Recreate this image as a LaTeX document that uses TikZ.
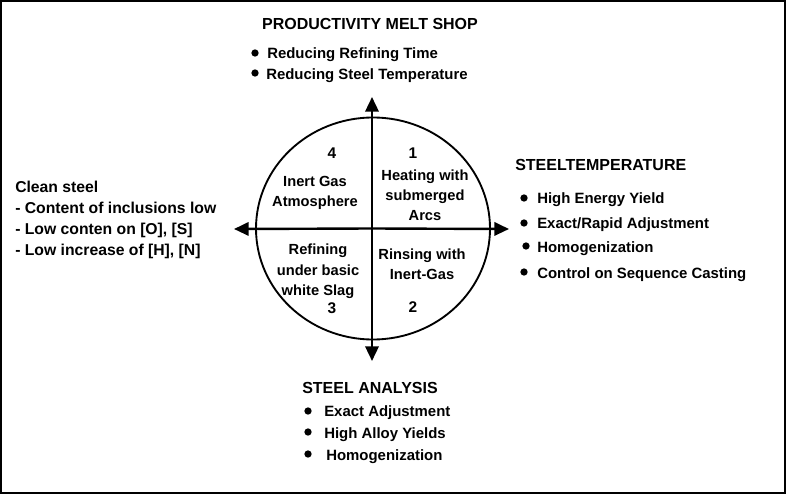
\documentclass[tikz,border=0pt]{standalone}
\usepackage{fontspec}
\setmainfont{Liberation Sans}
\usetikzlibrary{arrows.meta}
\begin{document}
\begin{tikzpicture}[x=0.75pt,y=-0.75pt,
  ttl/.style={font=\bfseries\fontsize{12}{14}\selectfont, inner sep=0pt, text height=8.6pt, text depth=0pt},
  itm/.style={font=\bfseries\fontsize{11.2}{13}\selectfont, inner sep=0pt, text height=8pt, text depth=0pt, anchor=west},
  lft/.style={font=\bfseries\fontsize{11.8}{14}\selectfont, inner sep=0pt, text height=8.5pt, text depth=0pt, anchor=west},
  ctx/.style={font=\bfseries\fontsize{11}{13}\selectfont, inner sep=0pt, text height=7.9pt, text depth=0pt},
  num/.style={font=\bfseries\fontsize{11.6}{13}\selectfont, inner sep=0pt, text height=8.3pt, text depth=0pt},
  bul/.style={circle, fill=black, inner sep=0pt, minimum size=5.5pt},
  axis/.style={line width=1.8pt, -{Triangle[length=11pt,width=10pt]}},
  ring/.style={line width=1.4pt}]
\useasboundingbox (0,0) rectangle (787,495);
% frame
\draw[line width=1.5pt] (0.8,0.8) -- (785,0.8) -- (785,493) -- (0.8,493) -- cycle;
\draw[line width=1pt] (0.8,493.8) -- (785.5,493.8);
% circle and axes
\coordinate (C) at (372,228.5);
\draw[ring] (373,228.5) ellipse [x radius=117, y radius=111];
\coordinate (N) at (372,97);
\coordinate (S) at (372,361);
\coordinate (W) at (234,229);
\coordinate (E) at (509,229);
\draw[axis] (C) -- (N);
\draw[axis] (C) -- (S);
\draw[axis] (C) -- (W);
\draw[axis] (C) -- (E);
% quadrant labels
\node[num] (n4) at (332,153) {4};
\node[num] (n1) at (413,153) {1};
\node[num] (n3) at (332,308) {3};
\node[num] (n2) at (413,307) {2};
\node[ctx] (q4a) at (315,181) {Inert Gas};
\node[ctx] (q4b) at (315,201) {Atmosphere};
\node[ctx] (q1a) at (425,175) {Heating with};
\node[ctx] (q1b) at (425,195) {submerged};
\node[ctx] (q1c) at (425,215) {Arcs};
\node[ctx] (q3a) at (318,249) {Refining};
\node[ctx] (q3b) at (318,270) {under basic};
\node[ctx] (q3c) at (318,290) {white Slag};
\node[ctx] (q2a) at (422,254) {Rinsing with};
\node[ctx] (q2b) at (422,274) {Inert-Gas};
% top
\node[ttl] (top) at (370,24) {PRODUCTIVITY MELT SHOP};
\node[bul] (tb1) at (255,53) {};
\node[itm] (t1) at (267,53) {Reducing Refining Time};
\node[bul] (tb2) at (255,73) {};
\node[itm] (t2) at (266,74) {Reducing Steel Temperature};
% right
\node[ttl, anchor=west] (rt) at (515,165) {STEELTEMPERATURE};
\node[bul] (rb1) at (524,198) {};
\node[itm] (r1) at (537,198) {High Energy Yield};
\node[bul] (rb2) at (524,223) {};
\node[itm] (r2) at (537,223) {Exact/Rapid Adjustment};
\node[bul] (rb3) at (526,246) {};
\node[itm] (r3) at (537,247) {Homogenization};
\node[bul] (rb4) at (524,272) {};
\node[itm] (r4) at (537,273) {Control on Sequence Casting};
% left
\node[lft] (l0) at (15,187) {Clean steel};
\node[lft] (l1) at (15,208) {- Content of inclusions low};
\node[lft] (l2) at (15,229) {- Low conten on [O], [S]};
\node[lft] (l3) at (15,250) {- Low increase of [H], [N]};
% bottom
\node[ttl, anchor=west] (bt) at (302,388) {STEEL ANALYSIS};
\node[bul] (bb1) at (308,411) {};
\node[itm] (b1) at (324,411) {Exact Adjustment};
\node[bul] (bb2) at (308,432) {};
\node[itm] (b2) at (324,433) {High Alloy Yields};
\node[bul] (bb3) at (308,454) {};
\node[itm] (b3) at (326,455) {Homogenization};
\end{tikzpicture}
\end{document}
